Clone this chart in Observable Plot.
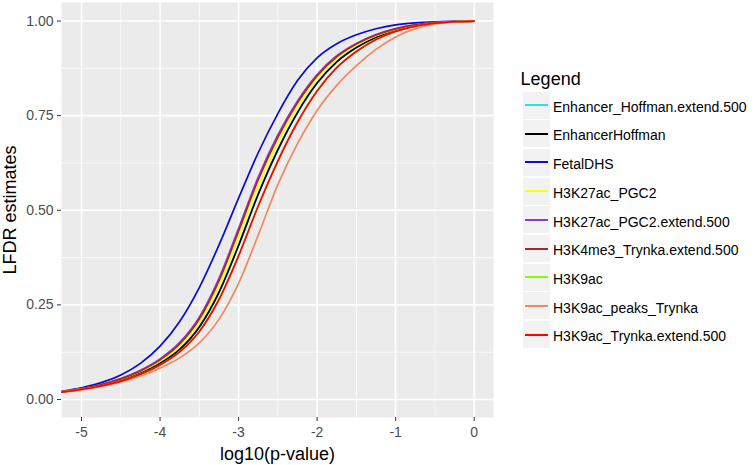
<!DOCTYPE html>
<html>
<head>
<meta charset="utf-8">
<script src="https://cdn.jsdelivr.net/npm/d3@7"></script>
<script src="https://cdn.jsdelivr.net/npm/@observablehq/plot@0.6"></script>
<style>
  html, body { margin: 0; padding: 0; background: #fff; }
  #wrap { position: relative; width: 755px; height: 465px; font-family: "Liberation Sans", Arial, Helvetica, sans-serif; }
  #chart svg { display: block; }
  .lg-title { position: absolute; font-size: 18px; line-height: 18px; color: #000; white-space: nowrap; }
  .lg-key { position: absolute; width: 27px; height: 27px; background: #F2F2F2; }
  .lg-line { position: absolute; height: 2px; width: 23px; }
  .lg-lab { position: absolute; font-size: 14px; line-height: 14px; color: #000; white-space: nowrap; }
</style>
</head>
<body>
<div id="wrap">
  <div id="chart"></div>
</div>
<script>
// ---- data ----
const seriesNames = [
  "Enhancer_Hoffman.extend.500",
  "EnhancerHoffman",
  "FetalDHS",
  "H3K27ac_PGC2",
  "H3K27ac_PGC2.extend.500",
  "H3K4me3_Trynka.extend.500",
  "H3K9ac",
  "H3K9ac_peaks_Trynka",
  "H3K9ac_Trynka.extend.500"
];
const seriesColors = ["#1FE3EF", "#000000", "#0A0AD8", "#FFFF00", "#8A3BD6", "#A52A2A", "#7FFF00", "#F4875E", "#FF0000"];

const logP = [-5.25, -5, -4.75, -4.5, -4.25, -4, -3.75, -3.5, -3.25, -3, -2.75, -2.5, -2.25, -2, -1.75, -1.5, -1.25, -1, -0.75, -0.5, -0.25, 0];

const enhancerHoffmanExt = [0.0199, 0.0272, 0.0372, 0.0510, 0.0699, 0.0957, 0.1326, 0.1918, 0.2832, 0.4071, 0.5424, 0.6598, 0.7582, 0.8362, 0.8921, 0.9300, 0.9574, 0.9759, 0.9881, 0.9950, 0.9983, 1];
const enhancerHoffman    = [0.0199, 0.0272, 0.0372, 0.0510, 0.0699, 0.0957, 0.1326, 0.1918, 0.2832, 0.4071, 0.5424, 0.6598, 0.7582, 0.8362, 0.8921, 0.9300, 0.9574, 0.9759, 0.9881, 0.9950, 0.9983, 1];
const fetalDHS           = [0.0217, 0.0309, 0.0445, 0.0650, 0.0956, 0.1410, 0.2064, 0.2959, 0.4080, 0.5320, 0.6520, 0.7555, 0.8427, 0.9027, 0.9400, 0.9637, 0.9797, 0.9900, 0.9952, 0.9979, 0.9992, 1];
const h3k27acPGC2        = [0.0203, 0.0280, 0.0387, 0.0535, 0.0739, 0.1019, 0.1420, 0.2045, 0.3008, 0.4290, 0.5646, 0.6797, 0.7734, 0.8475, 0.9005, 0.9357, 0.9610, 0.9780, 0.9892, 0.9955, 0.9985, 1];
const h3k27acPGC2Ext     = [0.0205, 0.0285, 0.0398, 0.0556, 0.0774, 0.1075, 0.1508, 0.2178, 0.3200, 0.4524, 0.5878, 0.6990, 0.7888, 0.8588, 0.9082, 0.9409, 0.9641, 0.9800, 0.9900, 0.9959, 0.9986, 1];
const h3k4me3TrynkaExt   = [0.0204, 0.0282, 0.0392, 0.0545, 0.0756, 0.1047, 0.1470, 0.2128, 0.3136, 0.4450, 0.5806, 0.6927, 0.7837, 0.8551, 0.9057, 0.9392, 0.9631, 0.9794, 0.9899, 0.9958, 0.9986, 1];
const h3k9ac             = [0.0195, 0.0264, 0.0358, 0.0486, 0.0667, 0.0915, 0.1258, 0.1797, 0.2643, 0.3797, 0.5112, 0.6300, 0.7325, 0.8153, 0.8768, 0.9196, 0.9513, 0.9727, 0.9866, 0.9944, 0.9981, 1];
const h3k9acPeaksTrynka  = [0.0187, 0.0253, 0.0343, 0.0463, 0.0622, 0.0830, 0.1100, 0.1495, 0.2118, 0.3070, 0.4344, 0.5678, 0.6760, 0.7637, 0.8300, 0.8820, 0.9250, 0.9580, 0.9800, 0.9925, 0.9980, 1];
const h3k9acTrynkaExt    = [0.0195, 0.0264, 0.0358, 0.0486, 0.0667, 0.0915, 0.1258, 0.1797, 0.2643, 0.3797, 0.5112, 0.6300, 0.7325, 0.8153, 0.8768, 0.9196, 0.9513, 0.9727, 0.9866, 0.9944, 0.9981, 1];

const seriesValues = [enhancerHoffmanExt, enhancerHoffman, fetalDHS, h3k27acPGC2, h3k27acPGC2Ext, h3k4me3TrynkaExt, h3k9ac, h3k9acPeaksTrynka, h3k9acTrynkaExt];

const xTicks = [-5, -4, -3, -2, -1, 0];
const xMinor = [-4.5, -3.5, -2.5, -1.5, -0.5];
const yTicks = [0, 0.25, 0.5, 0.75, 1];
const yMinor = [0.125, 0.375, 0.625, 0.875];
const xTitle = "log10(p-value)";
const yTitle = "LFDR estimates";
const legendTitle = "Legend";

// ---- build table ----
const rows = [];
seriesNames.forEach((name, i) => {
  logP.forEach((x, j) => rows.push({series: name, x, y: seriesValues[i][j]}));
});

const chart = Plot.plot({
  width: 755,
  height: 465,
  marginLeft: 61,
  marginRight: 262,
  marginTop: 2,
  marginBottom: 48,
  style: {fontFamily: '"Liberation Sans", Arial, Helvetica, sans-serif', background: "transparent"},
  x: {domain: [-5.255, 0.246]},
  y: {domain: [-0.0475, 1.049]},
  color: {domain: seriesNames, range: seriesColors},
  marks: [
    Plot.frame({fill: "#EBEBEB", stroke: null}),
    Plot.ruleX(xMinor, {stroke: "white", strokeWidth: 0.8}),
    Plot.ruleY(yMinor, {stroke: "white", strokeWidth: 0.8}),
    Plot.ruleX(xTicks, {stroke: "white", strokeWidth: 1.6}),
    Plot.ruleY(yTicks, {stroke: "white", strokeWidth: 1.6}),
    Plot.line(rows, {x: "x", y: "y", z: "series", stroke: "series", strokeWidth: 1.7, curve: "monotone-x"}),
    Plot.axisX({ticks: xTicks, tickSize: 4, tickPadding: 6, fontSize: 14, color: "#4D4D4D", stroke: "#333333", label: null, tickFormat: d => String(d)}),
    Plot.axisY({ticks: yTicks, tickSize: 4, tickPadding: 4, fontSize: 14, color: "#4D4D4D", stroke: "#333333", label: null, tickFormat: d3.format(".2f")}),
    Plot.text([xTitle], {frameAnchor: "bottom", dy: 37, lineAnchor: "middle", fontSize: 18, fill: "#000"}),
    Plot.text([yTitle], {frameAnchor: "left", dx: -51.5, rotate: -90, textAnchor: "middle", lineAnchor: "middle", fontSize: 18, fill: "#000"})
  ]
});
document.getElementById("chart").appendChild(chart);

// ---- legend ----
const wrap = document.getElementById("wrap");
function add(cls, css, text) {
  const d = document.createElement("div");
  d.className = cls;
  Object.assign(d.style, css);
  if (text != null) d.textContent = text;
  wrap.appendChild(d);
  return d;
}
add("lg-title", {left: "520.6px", top: "70px"}, legendTitle);
seriesNames.forEach((name, i) => {
  const cy = 105 + 28.7 * i;
  add("lg-key", {left: "523px", top: (cy - 13.5) + "px"});
  add("lg-line", {left: "525px", top: (cy - 1) + "px", background: seriesColors[i]});
  add("lg-lab", {left: "553px", top: (cy - 5.3) + "px"}, name);
});
</script>
</body>
</html>
